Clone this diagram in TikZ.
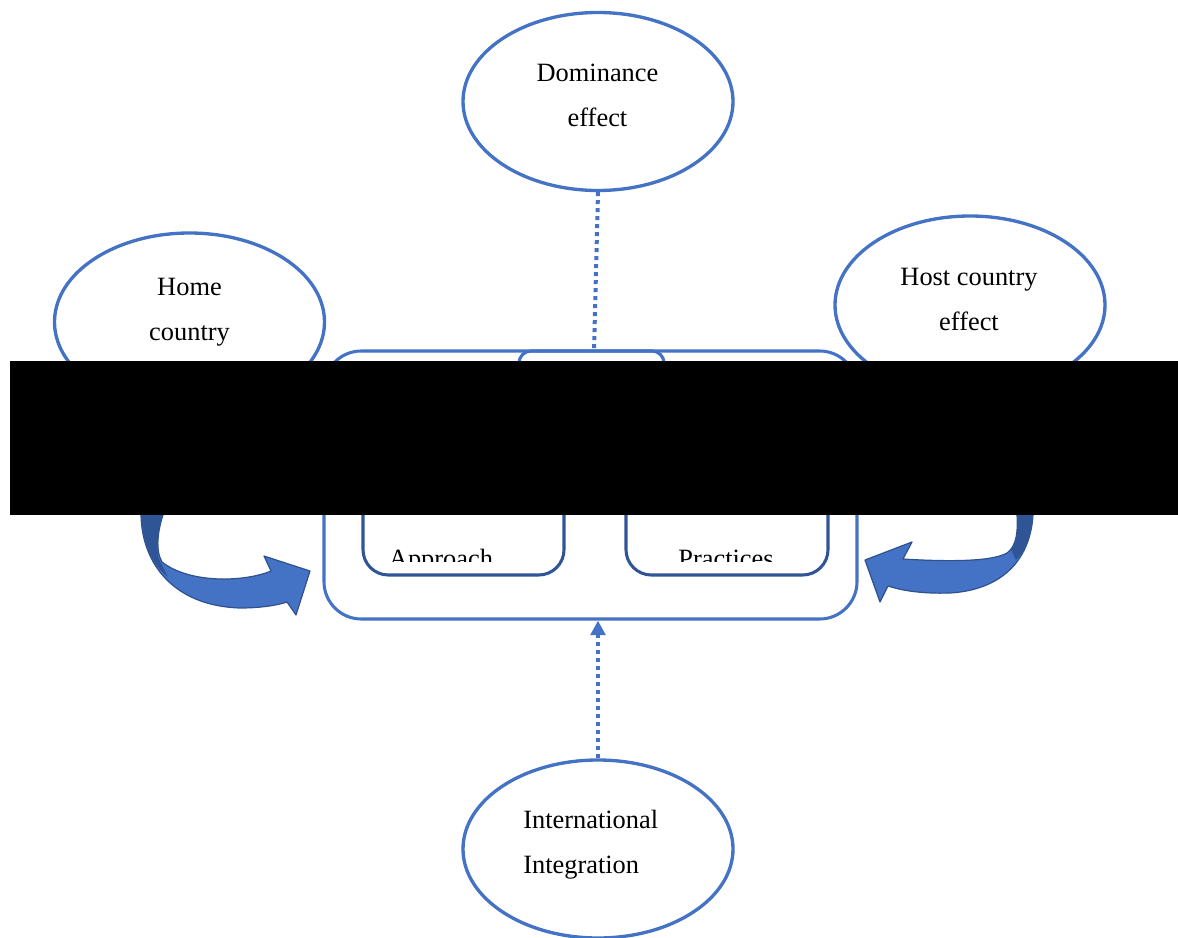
\documentclass[tikz,border=0pt]{standalone}
\usepackage{fontspec}
\setmainfont{Liberation Serif}
\usetikzlibrary{shapes.geometric,arrows.meta}
\definecolor{accent}{HTML}{4472C4}
\definecolor{deepblue}{HTML}{2F5597}
\definecolor{rim}{HTML}{2F528F}
\begin{document}
\begin{tikzpicture}[x=0.75pt,y=-0.75pt,
  bubble/.style={ellipse, draw=accent, line width=2.5pt, minimum width=202.5pt,
                 minimum height=133.5pt, inner sep=0pt},
  lbl/.style={font=\fontsize{19.8}{24}\selectfont, anchor=base, inner sep=0pt},
  framebox/.style={draw=accent, line width=2.3pt, rounded corners=28pt,
                   minimum width=399.75pt, minimum height=201pt, inner sep=0pt},
  tabbox/.style={draw=accent, line width=2.3pt, rounded corners=9pt,
                 minimum width=108.75pt, minimum height=73.5pt, inner sep=0pt},
  innerbox/.style={draw=deepblue, line width=2.3pt, rounded corners=19pt,
                   minimum height=101.25pt, inner sep=0pt},
  dotline/.style={draw=accent, line width=3pt, dash pattern=on 3pt off 3pt},
  ribbon/.style={fill=accent, draw=rim, line width=0.9pt, line join=round},
  ribbonback/.style={fill=deepblue}]

\useasboundingbox (0,0) rectangle (1178,938);

% outer frame with the tab on its top edge and the two lower boxes
\node[framebox] (frame) at (590.5,485) {};
\node[tabbox] (tab) at (591.5,400) {};
\node[innerbox, minimum width=150.75pt] (leftbox) at (463.5,507.5) {};
\node[innerbox, minimum width=151.5pt] (rightbox) at (727,507.5) {};
\begin{scope}
  \clip (363,500) rectangle (828,561.5);
  \node[lbl] (approach) at (441,567.5) {Approach};
  \node[lbl] (practices) at (726,567.5) {Practices};
\end{scope}

% the four influences
\node[bubble] (dom) at (598,101.5) {};
\node[lbl] (domA) at (597.5,82) {Dominance};
\node[lbl] (domB) at (597.5,127) {effect};

\node[bubble] (home) at (189.5,322) {};
\node[lbl] (homeA) at (189.5,295) {Home};
\node[lbl] (homeB) at (189.5,340) {country};

\node[bubble] (host) at (970,305) {};
\node[lbl] (hostA) at (969,285) {Host country};
\node[lbl] (hostB) at (969,330) {effect};

\node[bubble] (intl) at (598,849) {};
\node[lbl, anchor=base west] (intlA) at (523,828) {International};
\node[lbl, anchor=base west] (intlB) at (523,873) {Integration};

% dotted connectors
\coordinate (topjoin) at (594,351);
\draw[dotline] (dom.south) -- (topjoin);
\draw[dotline, -{Triangle[width=11pt,length=11pt]}] (intl.north) -- (intl.north |- frame.south);

% curved block arrow on the left
\path[ribbon] (141,515) .. controls (142,565) and (175,606) .. (240,608)
  .. controls (262,608) and (278,605) .. (287,602) -- (296,615) -- (310,571)
  -- (264,556) -- (271,571) .. controls (245,582) and (190,584) .. (162,562)
  .. controls (155,550) and (158,530) .. (163,515) -- cycle;
\path[ribbonback] (141.5,515) .. controls (142,540) and (150,563) .. (168,577)
  -- (158.5,558) .. controls (156,545) and (158.5,528) .. (162.5,515) -- cycle;

% curved block arrow on the right
\path[ribbon] (1033,515) .. controls (1030,562) and (1000,590) .. (950,593)
  .. controls (920,594) and (900,590) .. (888,586) -- (880,602) -- (865,560)
  -- (912,542) -- (903,559) .. controls (935,561) and (990,563) .. (1007,553)
  .. controls (1017,546) and (1018,530) .. (1017,515) -- cycle;
\path[ribbonback] (1017.5,515) -- (1032.5,515) .. controls (1032,535) and (1026,550) .. (1016,560)
  -- (1011,550) .. controls (1016,543) and (1018,530) .. (1017.5,515) -- cycle;

% black band across the middle
\fill[black] (10,361) rectangle (1178,515);
\end{tikzpicture}
\end{document}
